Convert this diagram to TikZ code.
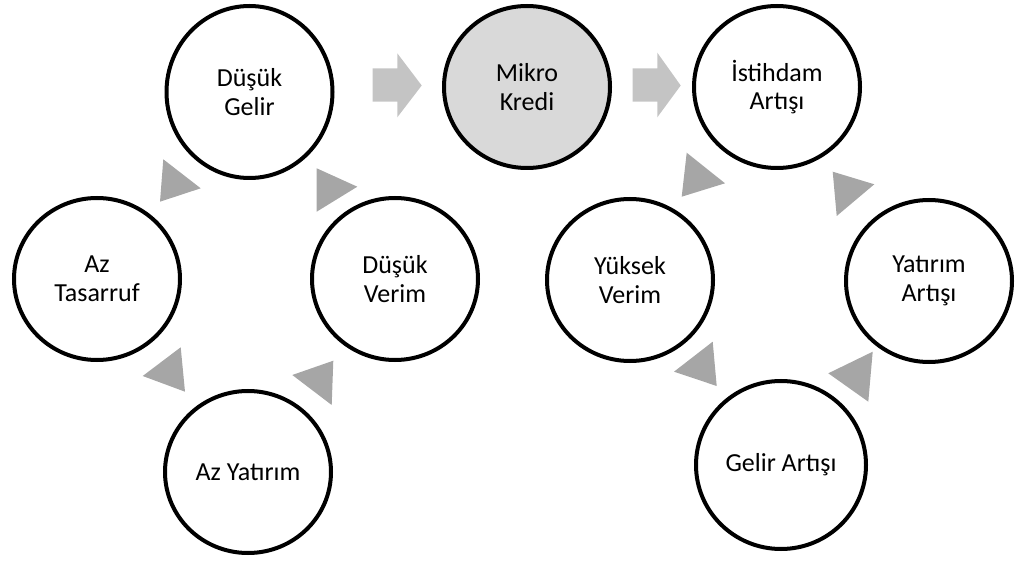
\documentclass[tikz,border=0pt]{standalone}
\usepackage{fontspec}
\setmainfont{Carlito}
\usetikzlibrary{shapes.geometric}
\definecolor{tri}{HTML}{A6A6A6}
\definecolor{blk}{HTML}{C4C4C4}
\definecolor{mkfill}{HTML}{D9D9D9}
\tikzset{
  bub/.style={ellipse, draw=black, line width=4pt, fill=white, inner sep=0pt,
    minimum width=166pt, minimum height=162pt, align=center,
    font=\fontsize{26}{28.5}\selectfont, text=black},
  tri/.style={fill=tri, draw=none},
  blk/.style={fill=blk, draw=none}
}
\begin{document}
\begin{tikzpicture}[x=1pt,y=-1pt]
\useasboundingbox (0,0) rectangle (1015,561);
% nodes
\node[bub, minimum height=172pt] (dg) at (249.5,92) {Düşük\\Gelir};
\node[bub, fill=mkfill] (mk) at (527,87) {Mikro\\Kredi};
\node[bub] (ia) at (777,87) {İstihdam\\Artışı};
\node[bub] (at) at (97,279) {Az\\Tasarruf};
\node[bub] (dv) at (395,279) {Düşük\\Verim};
\node[bub] (ay) at (248,472) {Az Yatırım};
\node[bub] (yv) at (630,280) {Yüksek\\Verim};
\node[bub] (ya) at (929,281) {Yatırım\\Artışı};
\node[bub, minimum width=170pt, minimum height=168pt] (ga) at (781,465) {Gelir Artışı};
% block arrows
\fill[blk] (372.7,68.3) -- (397.3,68.3) -- (397.3,53.3) -- (421.7,85.5) -- (397.3,117.3) -- (397.3,101.7) -- (372.7,101.7) -- cycle;
\fill[blk] (632.7,68.3) -- (657.3,68.3) -- (657.3,52.7) -- (680.7,85.5) -- (657.3,117.3) -- (657.3,101.7) -- (632.7,101.7) -- cycle;
% cycle triangles (left)
\fill[tri] (160,201.7) -- (163.3,159.3) -- (200.7,188.3) -- cycle;
\fill[tri] (316.7,168.3) -- (316.7,211.7) -- (357.3,186.7) -- cycle;
\fill[tri] (292.3,375) -- (333.3,360.7) -- (331.7,405) -- cycle;
\fill[tri] (142.7,376) -- (180.7,347.3) -- (185,391.7) -- cycle;
% cycle triangles (right)
\fill[tri] (681.7,196.7) -- (686.7,152.7) -- (725,183.3) -- cycle;
\fill[tri] (832.7,171.7) -- (836.7,216) -- (874.3,184.3) -- cycle;
\fill[tri] (674,371.7) -- (712.7,341.7) -- (716.7,386) -- cycle;
\fill[tri] (828.3,373.3) -- (872.7,351.7) -- (868.3,401.7) -- cycle;
\end{tikzpicture}
\end{document}
